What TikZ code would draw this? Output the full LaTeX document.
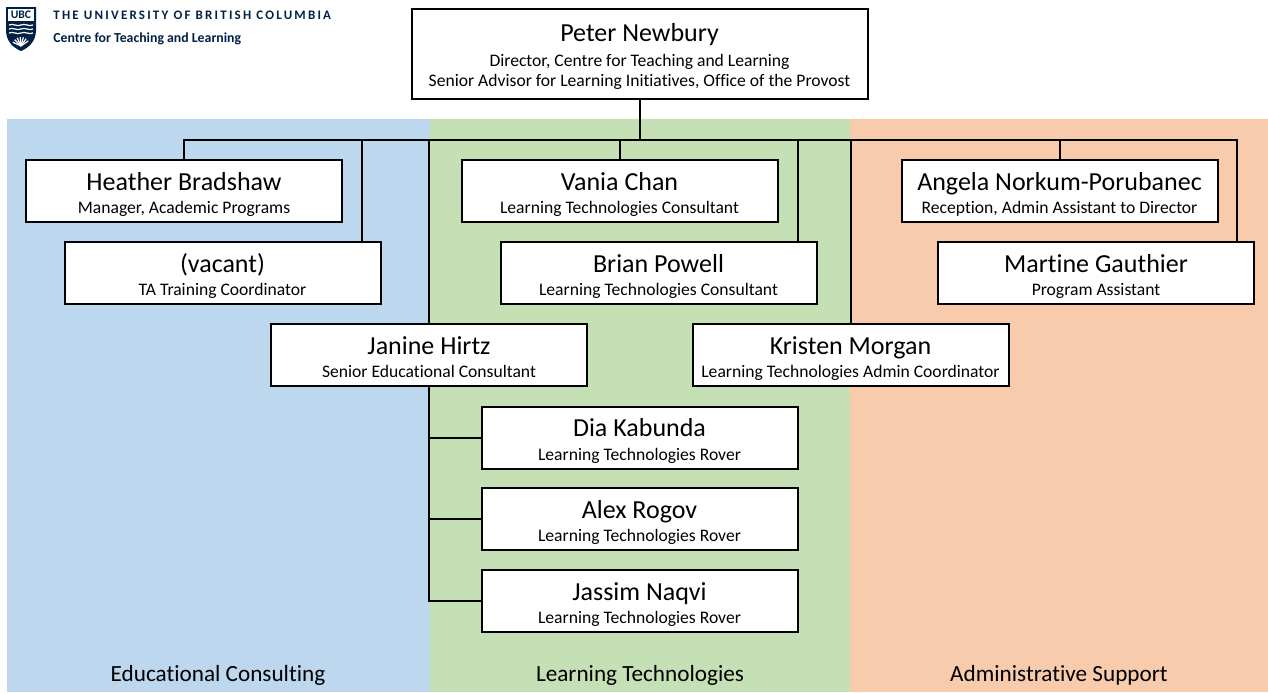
\documentclass[tikz,border=0pt]{standalone}
\usepackage{fontspec}
\setmainfont{Carlito}[Ligatures=NoCommon]
\definecolor{edblue}{HTML}{BDD7EE}
\definecolor{ltgreen}{HTML}{C5E0B4}
\definecolor{adorange}{HTML}{F8CBAD}
\definecolor{ubcnavy}{HTML}{002145}
\newcommand{\staffname}[2]{\rule{0pt}{13.5pt}{\fontsize{13}{11.6}\selectfont #1}\\\rule[-2.5pt]{0pt}{2.5pt}#2}
\tikzset{
  staff/.style={draw, rectangle, line width=1pt, fill=white, minimum width=158pt, minimum height=31pt, inner sep=0pt, align=center, font=\fontsize{8.8}{11.6}\selectfont},
  link/.style={line width=1pt},
  band/.style={font=\fontsize{11.6}{14}\selectfont}
}
\begin{document}
\begin{tikzpicture}[x=0.5pt, y=-0.5pt]
            \useasboundingbox (0,0) rectangle (1268,692);
            \fill[edblue] (7,119) rectangle (430,692);
            \fill[ltgreen] (430,119) rectangle (850,692);
            \fill[adorange] (850,119) rectangle (1268,692);
            \node[band] (edlabel) at (218,675) {Educational Consulting};
            \node[band] (ltlabel) at (640,675) {Learning Technologies};
            \node[band] (adlabel) at (1059,675) {Administrative Support};

            \fill[ubcnavy] (6,7) -- (36,7) -- (36,30) .. controls (36,42) and (28,48) .. (21,51) .. controls (14,48) and (6,42) .. (6,30) -- cycle;
            \fill[white] (8,9) rectangle (34,21);
            \node[text=ubcnavy, inner sep=0pt, font=\bfseries\fontsize{5.8}{6}\selectfont] (ubc) at (21,14.5) {UBC};
            \foreach \y in {25,29,33}
                \draw[white, line width=0.6pt] (9,\y) .. controls (13,\y-2) and (17,\y+2) .. (21,\y) .. controls (25,\y-2) and (29,\y+2) .. (33,\y);
            \foreach \a in {205,225,...,335}
                \draw[white, line width=0.6pt] (21,46) -- ++(\a:9);
            \node[anchor=west, text=ubcnavy, inner sep=0pt, font=\bfseries\fontsize{6.5}{7}\selectfont\addfontfeatures{LetterSpace=17}] (uni) at (53,15) {THE UNIVERSITY OF BRITISH COLUMBIA};
            \node[anchor=west, text=ubcnavy, inner sep=0pt, font=\bfseries\fontsize{6.9}{8}\selectfont] (ctl) at (53,39) {Centre for Teaching and Learning};

            \node[staff, minimum width=228pt, minimum height=45pt] (peter) at (639.5,53.5) {\rule{0pt}{13pt}{\fontsize{13}{11.6}\selectfont Peter Newbury}\\[1pt]Director, Centre for Teaching and Learning\\[-1.6pt]\rule[-2.5pt]{0pt}{2.5pt}Senior Advisor for Learning Initiatives, Office of the Provost};
            \node[staff] (heather) at (184,191) {\staffname{Heather Bradshaw}{Manager, Academic Programs}};
            \node[staff] (vacant) at (222.5,273) {\staffname{(vacant)}{TA Training Coordinator}};
            \node[staff] (janine) at (429,355) {\staffname{Janine Hirtz}{Senior Educational Consultant}};
            \node[staff] (vania) at (619.5,191) {\staffname{Vania Chan}{Learning Technologies Consultant}};
            \node[staff] (brian) at (658.5,273) {\staffname{Brian Powell}{Learning Technologies Consultant}};
            \node[staff] (kristen) at (850.5,355) {\staffname{Kristen Morgan}{Learning Technologies Admin Coordinator}};
            \node[staff] (angela) at (1059.5,191) {\staffname{Angela Norkum-Porubanec}{Reception, Admin Assistant to Director}};
            \node[staff] (martine) at (1096,273) {\staffname{Martine Gauthier}{Program Assistant}};
            \node[staff] (dia) at (639.5,437.5) {\staffname{Dia Kabunda}{Learning Technologies Rover}};
            \node[staff] (alex) at (639.5,519) {\staffname{Alex Rogov}{Learning Technologies Rover}};
            \node[staff] (jassim) at (639.5,601) {\staffname{Jassim Naqvi}{Learning Technologies Rover}};

            \coordinate (bus) at (639,140);
            \draw[link] (peter.south) -- (peter.south |- bus);
            \draw[link] (heather.north) |- (bus);
            \draw[link] ([xshift=-10pt]vacant.north east) |- (bus);
            \draw[link] (janine.north) |- (bus);
            \draw[link] (vania.north) |- (bus);
            \draw[link] ([xshift=-10pt]brian.north east) |- (bus);
            \draw[link] (kristen.north) |- (bus);
            \draw[link] (angela.north) |- (bus);
            \draw[link] ([xshift=-9pt]martine.north east) |- (bus);
            \draw[link] (janine.south) |- (jassim.west);
            \draw[link] (dia.west) -| (janine.south);
            \draw[link] (alex.west) -| (janine.south);
        \end{tikzpicture}
\end{document}
